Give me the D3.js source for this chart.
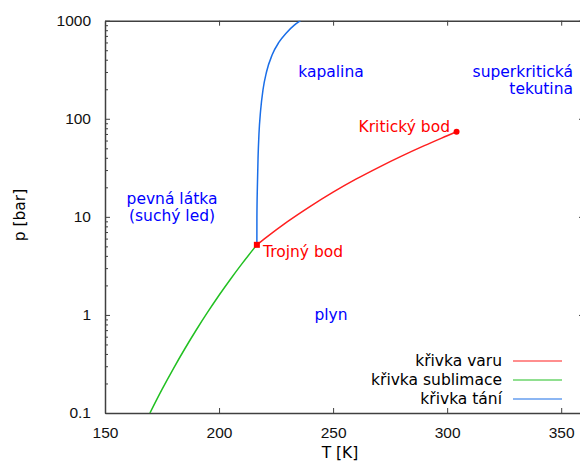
<!DOCTYPE html>
<html>
<head>
<meta charset="utf-8">
<script src="https://cdn.jsdelivr.net/npm/d3@7"></script>
<style>
  body { margin: 0; background: #fff; }
  svg { font-family: "DejaVu Sans", sans-serif; }
  .axis path, .axis line { stroke: #404040; }
  .axis text { font-size: 15.5px; fill: #111; }
</style>
</head>
<body>
<script>
// T [K] and p [bar] for each curve
var vaporT = [216.58, 220, 230, 240, 250, 260, 270, 280, 290, 300, 304.13];
var vaporP = [5.185, 5.99, 8.93, 12.8, 17.85, 24.2, 32.0, 41.6, 53.2, 67.1, 73.8];

var sublT = [169.7, 175, 180, 185, 190, 195, 200, 205, 210, 216.58];
var sublP = [0.1, 0.174, 0.284, 0.452, 0.702, 1.066, 1.586, 2.313, 3.313, 5.185];

var meltT = [216.58, 216.6, 216.8, 217.1, 217.5, 218.2, 219.3, 220.8, 223.3, 226.2, 229.5, 233, 235.7];
var meltP = [5.185, 10, 20, 40, 70, 120, 200, 300, 450, 600, 750, 900, 1000];

var tempTicks = [150, 200, 250, 300, 350];
var pressTicks = [0.1, 1, 10, 100, 1000];
var pressLabels = ["0.1", "1", "10", "100", "1000"];

var seriesNames = ["křivka varu", "křivka sublimace", "křivka tání"];
var seriesColors = ["#ff1f1f", "#22c022", "#1a6ee8"];

var triplePoint = [216.58, 5.185];
var criticalPoint = [304.13, 73.8];

var margin = {top: 20.7, right: -4, bottom: 53, left: 105};
var W = 580, H = 466;
var width = W - margin.left - margin.right;
var height = H - margin.top - margin.bottom;
var fs = "15.5px";

var x = d3.scaleLinear().domain([150, 360]).range([0, width]);
var y = d3.scaleLog().domain([0.1, 1000]).range([height, 0]);

var svg = d3.select("body").append("svg")
    .attr("width", W)
    .attr("height", H)
  .append("g")
    .attr("transform", "translate(" + margin.left + "," + margin.top + ")");

svg.append("defs").append("clipPath").attr("id", "clip")
  .append("rect").attr("width", width).attr("height", height);

// minor log ticks
var minor = [];
[0.1, 1, 10, 100].forEach(function(d) {
  for (var k = 2; k <= 9; k++) minor.push(d * k);
});

svg.append("g").attr("class", "axis")
    .attr("transform", "translate(0," + height + ")")
    .call(d3.axisBottom(x).tickValues(tempTicks).tickSizeInner(-5).tickSizeOuter(0).tickPadding(14))
    .selectAll("text").attr("dy", "0.71em");
svg.append("g").attr("class", "axis")
    .call(d3.axisTop(x).tickValues(tempTicks).tickSizeInner(-5).tickSizeOuter(0).tickFormat(""));
svg.append("g").attr("class", "axis")
    .call(d3.axisLeft(y).tickValues(pressTicks).tickSizeInner(-5).tickSizeOuter(0).tickPadding(14)
      .tickFormat(function(d, i) { return pressLabels[i]; }));
svg.append("g").attr("class", "axis")
    .call(d3.axisLeft(y).tickValues(minor).tickSizeInner(-3).tickSizeOuter(0).tickFormat(""))
    .select(".domain").remove();
svg.append("g").attr("class", "axis")
    .attr("transform", "translate(" + width + ",0)")
    .call(d3.axisRight(y).tickValues(pressTicks).tickSizeInner(-5).tickSizeOuter(0).tickFormat(""));
svg.append("g").attr("class", "axis")
    .attr("transform", "translate(" + width + ",0)")
    .call(d3.axisRight(y).tickValues(minor).tickSizeInner(-3).tickSizeOuter(0).tickFormat(""))
    .select(".domain").remove();

svg.selectAll(".axis .domain").attr("stroke-width", 1.5);

// axis titles
svg.append("text")
    .attr("x", 340 - margin.left)
    .attr("y", 458 - margin.top)
    .attr("text-anchor", "middle")
    .style("font-size", fs)
    .text("T [K]");
svg.append("text")
    .attr("transform", "translate(" + (20 - margin.left) + "," + (215 - margin.top) + ") rotate(-90)")
    .attr("text-anchor", "middle")
    .attr("dy", "0.35em")
    .style("font-size", fs)
    .text("p [bar]");

// curves
var line = d3.line()
    .x(function(d) { return x(d[0]); })
    .y(function(d) { return y(d[1]); })
    .curve(d3.curveMonotoneX);

var curves = [
  d3.zip(vaporT, vaporP),
  d3.zip(sublT, sublP),
  d3.zip(meltT, meltP)
];

svg.append("g").attr("clip-path", "url(#clip)")
  .selectAll("path.curve")
    .data(curves)
  .enter().append("path")
    .attr("class", "curve")
    .attr("fill", "none")
    .attr("stroke", function(d, i) { return seriesColors[i]; })
    .attr("stroke-width", 1.5)
    .attr("d", line);

// special points
svg.append("rect")
    .attr("x", x(triplePoint[0]) - 3)
    .attr("y", y(triplePoint[1]) - 3)
    .attr("width", 6).attr("height", 6)
    .attr("fill", "#ff0000");
svg.append("circle")
    .attr("cx", x(criticalPoint[0]))
    .attr("cy", y(criticalPoint[1]))
    .attr("r", 3)
    .attr("fill", "#ff0000");

// region labels
function label(txt, px, py, anchor, color) {
  svg.append("text")
      .attr("x", px - margin.left)
      .attr("y", py - margin.top)
      .attr("dy", "0.35em")
      .attr("text-anchor", anchor)
      .style("font-size", fs)
      .attr("fill", color)
      .text(txt);
}
label("kapalina", 331, 72, "middle", "#0000ff");
label("superkritická", 573, 72, "end", "#0000ff");
label("tekutina", 573, 89, "end", "#0000ff");
label("pevná látka", 172, 199, "middle", "#0000ff");
label("(suchý led)", 172, 216, "middle", "#0000ff");
label("plyn", 331, 315, "middle", "#0000ff");
label("Kritický bod", 450, 127, "end", "#ff0000");
label("Trojný bod", 263, 252, "start", "#ff0000");

// legend
var legend = svg.selectAll(".legend")
    .data(seriesNames)
  .enter().append("g")
    .attr("class", "legend")
    .attr("transform", function(d, i) { return "translate(0," + (361 + i * 19 - margin.top) + ")"; });
legend.append("text")
    .attr("x", 502 - margin.left)
    .attr("dy", "0.35em")
    .attr("text-anchor", "end")
    .style("font-size", fs)
    .text(function(d) { return d; });
legend.append("line")
    .attr("x1", 513 - margin.left)
    .attr("x2", 562 - margin.left)
    .attr("stroke", function(d, i) { return seriesColors[i]; })
    .attr("stroke-width", 1.2);
</script>
</body>
</html>
